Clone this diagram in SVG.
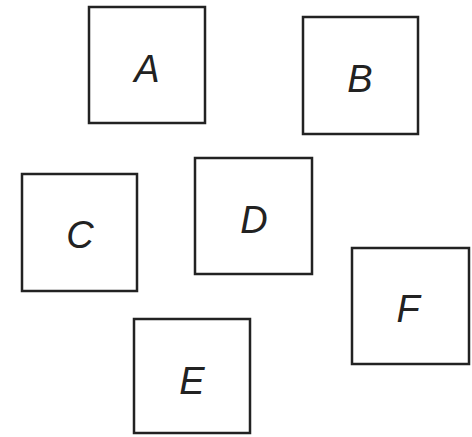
<svg xmlns="http://www.w3.org/2000/svg" width="472" height="437" viewBox="0 0 472 437">
<style>
.box{fill:#fff;stroke:#222;stroke-width:2.5}
.lbl{font-family:"Liberation Sans",Arial,sans-serif;font-style:italic;font-size:38px;fill:#222;text-anchor:middle}
</style>
<rect width="472" height="437" fill="#fff"/>
<g id="connectors"></g>
<g id="A"><rect class="box" x="89" y="7" width="116" height="116"/><text class="lbl" x="147" y="82">A</text></g>
<g id="B"><rect class="box" x="303" y="17" width="115" height="117"/><text class="lbl" x="360" y="92">B</text></g>
<g id="C"><rect class="box" x="22" y="174" width="115" height="117"/><text class="lbl" x="80" y="248">C</text></g>
<g id="D"><rect class="box" x="195" y="158" width="117" height="116"/><text class="lbl" x="254" y="233">D</text></g>
<g id="E"><rect class="box" x="134" y="319" width="116" height="114"/><text class="lbl" x="192" y="394">E</text></g>
<g id="F"><rect class="box" x="352" y="248" width="117" height="116"/><text class="lbl" x="408" y="322">F</text></g>
</svg>
